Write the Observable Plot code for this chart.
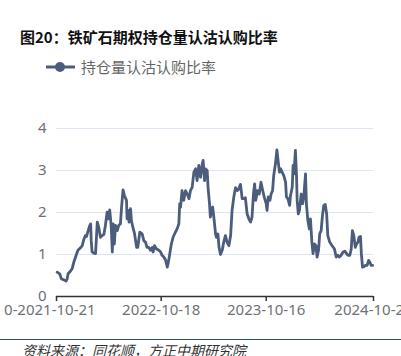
<!DOCTYPE html>
<html>
<head>
<meta charset="utf-8">
<script src="https://cdn.jsdelivr.net/npm/d3@7"></script>
<script src="https://cdn.jsdelivr.net/npm/@observablehq/plot@0.6"></script>
<style>
  html, body { margin: 0; padding: 0; width: 401px; height: 356px; overflow: hidden; background: #fff; }
  #wrap { position: relative; width: 401px; height: 356px; font-family: "Noto Sans", "Noto Sans CJK SC", sans-serif; }
  #title { position: absolute; left: 20px; top: 28px; font: bold 15px/18px "Noto Sans CJK SC", sans-serif; color: #111; white-space: nowrap; }
  #legend { position: absolute; left: 44px; top: 58px; height: 18px; display: flex; align-items: center; font: 15px/18px "Noto Sans CJK SC", sans-serif; color: #666; white-space: nowrap; }
  #legend svg { margin-right: 5px; }
  #chart { position: absolute; left: 0; top: 110px; }
  #footer { position: absolute; left: 0; top: 339px; width: 401px; border-top: 1.5px solid #2b4a7e; }
  #source { position: absolute; left: 22px; top: 342px; font: italic 14px/16px "Noto Sans CJK SC", sans-serif; color: #333; white-space: nowrap; }
</style>
</head>
<body>
<div id="wrap">
  <div id="title"></div>
  <div id="legend"></div>
  <div id="chart"></div>
  <div id="footer"></div>
  <div id="source"></div>
</div>
<script>
const titleText = "图20：铁矿石期权持仓量认沽认购比率";
const seriesName = "持仓量认沽认购比率";
const sourceText = "资料来源：同花顺，方正中期研究院";
const lineColor = "#4b5c7c";

const dates = [
"2021-10-23","2021-11-01","2021-11-07","2021-11-15","2021-11-23","2021-11-27","2021-11-30","2021-12-08","2021-12-14","2021-12-20",
"2021-12-26","2022-01-03","2022-01-12","2022-01-18","2022-01-24","2022-01-29","2022-02-02","2022-02-06","2022-02-13","2022-02-16",
"2022-02-18","2022-02-21","2022-02-27","2022-03-05","2022-03-11","2022-03-16","2022-03-22","2022-03-28","2022-04-03","2022-04-08",
"2022-04-14","2022-04-18","2022-04-23","2022-04-28","2022-05-02","2022-05-05","2022-05-09","2022-05-13","2022-05-19","2022-05-24",
"2022-05-30","2022-06-03","2022-06-08","2022-06-13","2022-06-20","2022-06-22","2022-06-26","2022-06-29","2022-07-04","2022-07-07",
"2022-07-12","2022-07-18","2022-07-25","2022-07-29","2022-08-05","2022-08-13","2022-08-19","2022-08-25","2022-08-30","2022-09-05",
"2022-09-11","2022-09-17","2022-09-20","2022-09-25","2022-10-02","2022-10-10","2022-10-16","2022-10-21","2022-10-27","2022-11-02",
"2022-11-08","2022-11-13","2022-11-22","2022-11-28","2022-12-06","2022-12-12","2022-12-18","2022-12-21","2022-12-24","2022-12-29",
"2023-01-04","2023-01-10","2023-01-16","2023-01-22","2023-01-27","2023-02-02","2023-02-08","2023-02-14","2023-02-19","2023-02-25",
"2023-03-03","2023-03-09","2023-03-12","2023-03-17","2023-03-20","2023-03-26","2023-03-29","2023-04-03","2023-04-06","2023-04-10",
"2023-04-14","2023-04-18","2023-04-24","2023-04-27","2023-05-02","2023-05-06","2023-05-11","2023-05-17","2023-05-22","2023-05-28",
"2023-06-03","2023-06-09","2023-06-15","2023-06-20","2023-06-26","2023-07-02","2023-07-08","2023-07-13","2023-07-19","2023-07-25",
"2023-07-31","2023-08-05","2023-08-11","2023-08-17","2023-08-23","2023-08-28","2023-09-02","2023-09-06","2023-09-10","2023-09-16",
"2023-09-22","2023-09-28","2023-10-04","2023-10-10","2023-10-16","2023-10-19","2023-10-23","2023-10-29","2023-11-02","2023-11-07",
"2023-11-11","2023-11-17","2023-11-22","2023-11-26","2023-12-01","2023-12-05","2023-12-10","2023-12-16","2023-12-22","2023-12-25",
"2023-12-30","2024-01-05","2024-01-08","2024-01-14","2024-01-17","2024-01-20","2024-01-25","2024-01-29","2024-01-31","2024-02-04",
"2024-02-08","2024-02-14","2024-02-19","2024-02-23","2024-02-29","2024-03-03","2024-03-08","2024-03-13","2024-03-17","2024-03-22",
"2024-03-26","2024-03-31","2024-04-05","2024-04-09","2024-04-14","2024-04-18","2024-04-23","2024-04-27","2024-05-02","2024-05-07",
"2024-05-12","2024-05-16","2024-05-23","2024-05-31","2024-06-08","2024-06-14","2024-06-20","2024-06-25","2024-07-01","2024-07-08",
"2024-07-14","2024-07-20","2024-07-25","2024-07-31","2024-08-05","2024-08-09","2024-08-14","2024-08-19","2024-08-23","2024-08-28",
"2024-09-01","2024-09-06","2024-09-09","2024-09-13","2024-09-18","2024-09-23","2024-09-29","2024-10-04","2024-10-08","2024-10-13",
"2024-10-18"
];
const ratios = [
0.58,0.54,0.42,0.40,0.37,0.42,0.54,0.60,0.66,0.82,
0.94,1.10,1.16,1.21,1.37,1.45,1.43,1.53,1.69,1.73,
1.33,1.06,1.03,1.02,1.77,1.65,1.41,1.45,1.48,1.69,
2.01,1.85,2.06,1.69,1.06,1.73,1.25,1.69,1.57,1.69,
1.73,2.13,2.54,2.40,2.29,1.85,2.05,1.77,2.09,1.81,
1.65,1.49,1.17,1.17,1.53,1.49,1.33,1.29,1.17,1.17,
1.10,1.17,1.06,1.21,1.13,1.10,1.06,0.98,0.94,0.87,
0.70,0.86,1.25,1.41,1.53,1.61,1.73,2.21,2.13,2.52,
2.29,2.52,2.44,2.33,2.52,2.60,2.96,3.04,2.76,3.12,
2.84,3.16,3.24,2.76,3.04,3.00,2.60,2.21,1.89,2.05,
2.13,1.89,1.49,1.41,1.49,1.17,1.00,1.10,1.29,1.45,
1.29,1.21,1.45,2.05,2.37,2.59,2.52,2.56,2.67,2.33,
2.33,2.35,1.97,1.85,1.77,1.89,2.44,2.68,2.29,2.52,
2.44,2.72,2.52,2.35,2.21,2.05,2.37,2.29,2.44,2.52,
2.88,3.16,3.49,3.24,2.96,3.04,2.96,2.88,2.72,2.37,
2.33,2.17,2.40,2.60,3.12,2.92,3.48,2.84,2.29,1.97,
2.05,2.44,2.21,2.37,2.92,2.21,1.81,1.61,1.85,1.29,
1.02,1.25,1.21,0.94,1.10,1.49,1.57,1.89,2.17,2.19,
1.97,1.45,1.29,1.21,1.13,0.94,0.98,0.94,0.98,1.06,
1.08,1.02,0.98,0.98,1.13,1.57,1.45,1.17,1.25,1.29,
1.41,1.43,1.02,0.70,0.71,0.74,0.74,0.86,0.82,0.74,
0.74
];
const xTickLabels = ["2021-10-21","2022-10-18","2023-10-16","2024-10-21"];
const xLabelFragment = "0-";
const yTicks = [0, 1, 2, 3, 4];

const parse = d3.utcParse("%Y-%m-%d");
const data = dates.map((d, i) => ({date: parse(d), value: ratios[i]}));
const tickDates = xTickLabels.map(parse);

document.getElementById("title").textContent = titleText;
document.getElementById("source").textContent = sourceText;
document.getElementById("legend").innerHTML =
  `<svg width="32" height="14"><line x1="2" x2="31" y1="7" y2="7" stroke="${lineColor}" stroke-width="3"/><circle cx="16" cy="7" r="5" fill="${lineColor}"/></svg><span>${seriesName}</span>`;

const chart = Plot.plot({
  width: 401,
  height: 215,
  marginTop: 18,
  marginBottom: 29,
  marginLeft: 56,
  marginRight: 28,
  style: {fontFamily: "'Noto Sans', 'Noto Sans CJK SC', sans-serif", fontSize: "15px", color: "#6e7079", overflow: "visible"},
  x: {type: "utc", domain: [tickDates[0], tickDates[tickDates.length - 1]]},
  y: {domain: [0, 4]},
  marks: [
    Plot.gridY(yTicks.filter(d => d > 0), {stroke: "#e0e6f1", strokeOpacity: 1, strokeWidth: 1.2}),
    Plot.axisY(yTicks, {tickSize: 0, tickPadding: 10, label: null, fill: "#6e7079", fontSize: 15}),
    Plot.axisX(tickDates, {tickSize: 5, tickPadding: 3, stroke: "#333", strokeWidth: 1.5, tickFormat: d3.utcFormat("%Y-%m-%d"), label: null, fill: "#6e7079", fontSize: 15}),
    Plot.text([tickDates[0]], {x: d => d, frameAnchor: "bottom", dy: 18, dx: -39, text: () => xLabelFragment, textAnchor: "end", fill: "#6e7079", fontSize: 15}),
    Plot.ruleY([0], {stroke: "#333", strokeWidth: 1.5}),
    Plot.line(data, {x: "date", y: "value", stroke: lineColor, strokeWidth: 2.8, strokeLinejoin: "round"})
  ]
});
document.getElementById("chart").appendChild(chart);
</script>
</body>
</html>
